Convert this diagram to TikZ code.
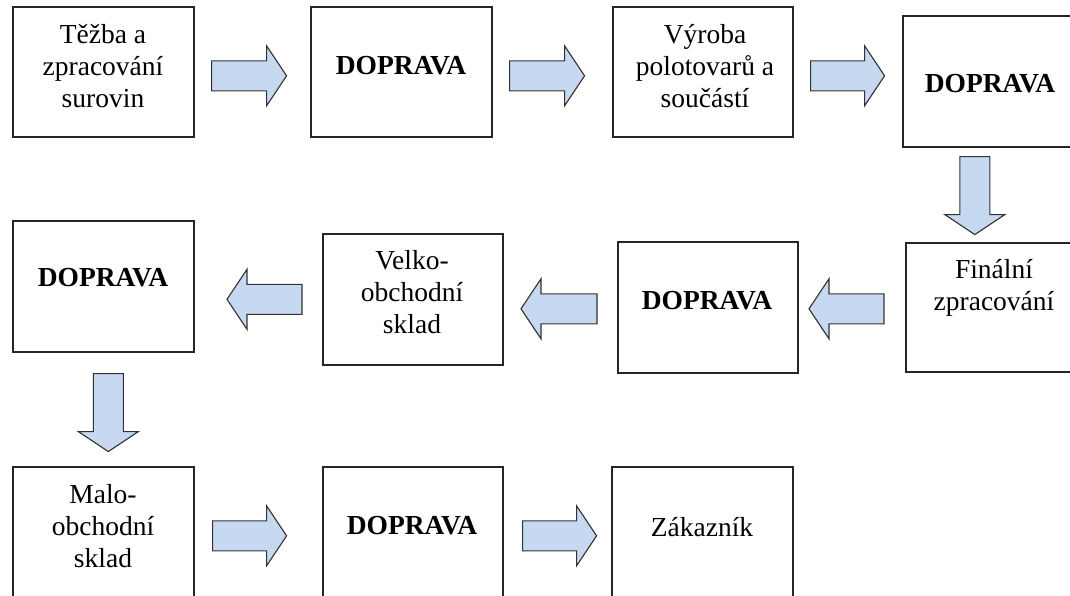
\documentclass[tikz,border=0pt]{standalone}
\usepackage{fontspec}
\setmainfont{Liberation Serif}
\usetikzlibrary{calc}
\definecolor{arrfill}{RGB}{198,217,241}
\definecolor{arrdraw}{RGB}{50,50,50}
\tikzset{
  box/.style={draw=black!85, line width=1.6pt, rectangle, inner sep=0pt, anchor=north west, fill=white},
  txt/.style={align=center, inner sep=0pt, font=\fontsize{27.5}{32}\selectfont},
  barrow/.style={draw=arrdraw, fill=arrfill, line width=1.1pt, line join=miter}
}
\newcommand{\blockarr}[3]{%
  \begin{scope}[shift={#1},rotate=#2]
    \draw[barrow] (0,-15) -- ({#3-20},-15) -- ({#3-20},-30) -- (#3,0) -- ({#3-20},30) -- ({#3-20},15) -- (0,15) -- cycle;
  \end{scope}}
\begin{document}
\begin{tikzpicture}[x=1pt,y=-1pt]
\useasboundingbox (0,0) rectangle (1070,595);
% boxes
\node[box, minimum width=181pt, minimum height=130pt] (b1) at (12,6) {};
\node[box, minimum width=181pt, minimum height=130pt] (b2) at (310,6) {};
\node[box, minimum width=180pt, minimum height=130pt] (b3) at (612,6) {};
\node[box, minimum width=176pt, minimum height=131pt] (b4) at (902,15) {};
\node[box, minimum width=173pt, minimum height=129pt] (b5) at (905,242) {};
\node[box, minimum width=180pt, minimum height=131pt] (b6) at (617,241) {};
\node[box, minimum width=180pt, minimum height=131pt] (b7) at (322,233) {};
\node[box, minimum width=181pt, minimum height=131pt] (b8) at (12,220) {};
\node[box, minimum width=181pt, minimum height=144pt] (b9) at (12,466) {};
\node[box, minimum width=180pt, minimum height=144pt] (b10) at (322,466) {};
\node[box, minimum width=181pt, minimum height=144pt] (b11) at (611,466) {};
% texts
\node[txt] (t1) at (103,66) {Těžba a\\zpracování\\surovin};
\node[txt] (t2) at (401,66) {\textbf{DOPRAVA}};
\node[txt] (t3) at (705,66) {Výroba\\polotovarů a\\součástí};
\node[txt] (t4) at (990,84) {\textbf{DOPRAVA}};
\node[txt] (t5) at (994,288) {Finální\\zpracování};
\node[txt] (t6) at (707,301) {\textbf{DOPRAVA}};
\node[txt] (t7) at (412,292) {Velko-\\obchodní\\sklad};
\node[txt] (t8) at (103,278) {\textbf{DOPRAVA}};
\node[txt] (t9) at (103,526) {Malo-\\obchodní\\sklad};
\node[txt] (t10) at (412,526) {\textbf{DOPRAVA}};
\node[txt] (t11) at (702,527) {Zákazník};
% block arrows
\blockarr{($(b1.east)+(17,4)$)}{0}{75}
\blockarr{($(b2.east)+(17,4)$)}{0}{75}
\blockarr{($(b3.east)+(17,4)$)}{0}{74}
\blockarr{($(b4.south)+(-16,9)$)}{-90}{78}
\blockarr{($(b5.west)+(-21,1.5)$)}{180}{75}
\blockarr{($(b6.west)+(-20,1.5)$)}{180}{76}
\blockarr{($(b7.west)+(-20,0)$)}{180}{75}
\blockarr{($(b8.south)+(5,21)$)}{-90}{78}
\blockarr{($(b9.east)+(18,-3)$)}{0}{74}
\blockarr{($(b10.east)+(19,-3)$)}{0}{74}
\end{tikzpicture}
\end{document}
